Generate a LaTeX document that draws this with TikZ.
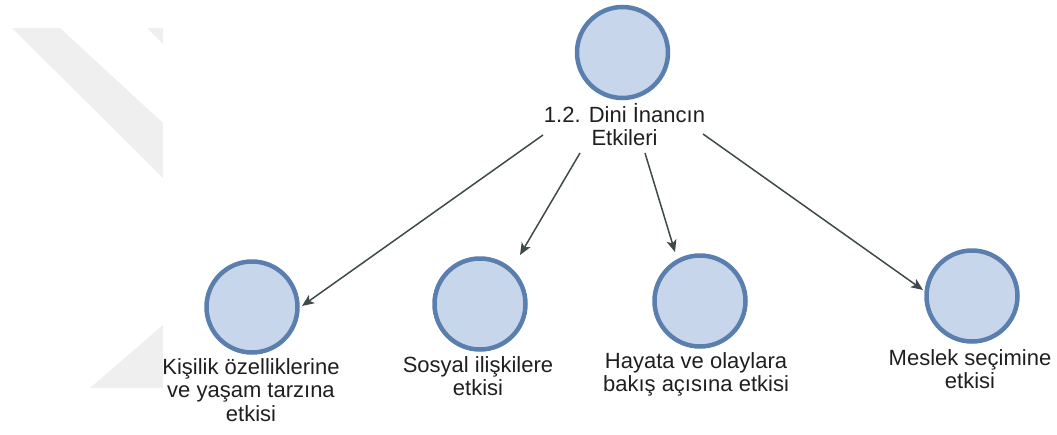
\documentclass[tikz,border=0pt]{standalone}
\usepackage{fontspec}
\setmainfont{Liberation Sans}
\usetikzlibrary{arrows.meta}
\definecolor{topicfill}{HTML}{C7D6EB}
\definecolor{topicedge}{HTML}{5A7FAF}
\definecolor{linkcol}{HTML}{3E4A4A}
\definecolor{markgrey}{HTML}{EFEFEF}
\tikzset{
  topic/.style={circle, draw=topicedge, fill=topicfill, line width=4.5pt,
    minimum size=91pt, inner sep=0pt},
  % base anchor sits on the last line's baseline
  caption/.style={align=center, anchor=base, inner sep=0pt, text=black!88,
    font=\fontsize{22}{23.5}\selectfont},
  link/.style={draw=linkcol, line width=1.5pt,
    -{Stealth[length=12pt,width=10pt,inset=3pt]}}
}
\begin{document}
\begin{tikzpicture}[x=1pt,y=-1pt]
  \useasboundingbox (0,0) rectangle (1057,434);
  % faint background mark
  \fill[markgrey] (12,28) -- (60,28) -- (163,123) -- (163,178) -- cycle;
  \fill[markgrey] (147,28) -- (163,28) -- (163,44) -- cycle;
  \fill[markgrey] (163,325) -- (163,388) -- (90,388) -- cycle;

  % topics
  \node[topic] (top) at (622.5,52.5) {};
  \node[caption] (toplbl) at (624.5,145.5) {1.2. Dini İnancın\\Etkileri};

  \node[topic] (c1) at (252,307) {};
  \node[caption] (l1) at (251,421) {Kişilik özelliklerine\\ve yaşam tarzına\\etkisi};
  \node[topic] (c2) at (480,304) {};
  \node[caption] (l2) at (478,395.5) {Sosyal ilişkilere\\etkisi};
  \node[topic] (c3) at (700,301) {};
  \node[caption] (l3) at (696,391.5) {Hayata ve olaylara\\bakış açısına etkisi};
  \node[topic] (c4) at (972,296) {};
  \node[caption] (l4) at (970,388.5) {Meslek seçimine\\etkisi};

  % connector ends
  \coordinate (s1) at (543,135);
  \coordinate (e1) at (302,306);
  \coordinate (s2) at (580,153);
  \coordinate (e2) at (520,255);
  \coordinate (s3) at (645,153);
  \coordinate (e3) at (675,252);
  \coordinate (s4) at (703,134);
  \coordinate (e4) at (923,290);

  \draw[link] (s1) -- (e1);
  \draw[link] (s2) -- (e2);
  \draw[link] (s3) -- (e3);
  \draw[link] (s4) -- (e4);
\end{tikzpicture}
\end{document}
